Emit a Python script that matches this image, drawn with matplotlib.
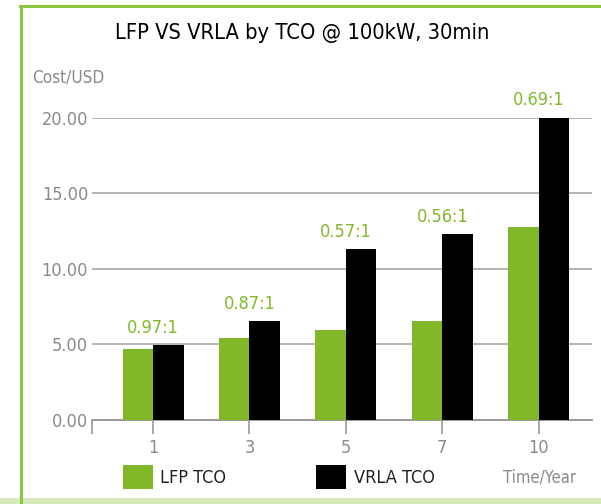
import numpy as np
import matplotlib
matplotlib.use("Agg")
from matplotlib import pyplot as plt
from matplotlib.lines import Line2D
from matplotlib.patches import Rectangle

plt.rcParams["font.family"] = ["DejaVu Sans"]
plt.rcParams["font.stretch"] = "condensed"

years = ["1", "3", "5", "7", "10"]
lfp_tco = [4.7, 5.43, 5.96, 6.56, 12.8]
vrla_tco = [4.97, 6.56, 11.31, 12.3, 20.0]
ratios = ["0.97:1", "0.87:1", "0.57:1", "0.56:1", "0.69:1"]
y_ticks = [0, 5, 10, 15, 20]

green = "#80b82a"
grey = "#999999"
text_grey = "#8a8a8a"

fig = plt.figure(figsize=(6.01, 5.04), dpi=100)
ax = fig.add_axes([92.3 / 601, (504 - 420) / 504, (591.7 - 92.3) / 601, (420 - 117.7) / 504])

x = np.arange(len(years))
w = 0.316
ax.bar(x - w / 2, lfp_tco, w, color=green, label="LFP TCO", zorder=3)
ax.bar(x + w / 2, vrla_tco, w, color="black", label="VRLA TCO", zorder=3)

for xi, r, a, b in zip(x, ratios, lfp_tco, vrla_tco):
    ax.annotate(r, (xi, max(a, b)), xytext=(0, 6), textcoords="offset points",
                ha="center", va="bottom", color=green, fontsize=13, clip_on=False)

ax.set_xlim(-0.63, 4.55)
ax.set_ylim(0, 20)
ax.set_yticks(y_ticks)
ax.set_yticklabels(["%.2f" % v for v in y_ticks])
ax.set_xticks(x)
ax.set_xticklabels(years)
ax.set_xticks([-0.63], minor=True)
ax.tick_params(axis="y", length=0, pad=3, labelsize=13, labelcolor=text_grey)
ax.tick_params(axis="x", which="both", length=10, width=1.2, color=grey, pad=4,
               labelsize=13, labelcolor=text_grey)
for v in y_ticks[1:]:
    ax.axhline(v, color="#b4b4b4", lw=1.4, zorder=1)
for s in ["top", "right", "left"]:
    ax.spines[s].set_visible(False)
ax.spines["bottom"].set_color(grey)
ax.spines["bottom"].set_linewidth(1.4)
ax.set_facecolor("none")

fig.text(0.503, 1 - 33 / 504, "LFP VS VRLA by TCO @ 100kW, 30min", ha="center", va="center",
         fontsize=15.7, color="black")
fig.text(32 / 601, 1 - 77 / 504, "Cost/USD", ha="left", va="center", fontsize=12.3, color=text_grey)
fig.text(540 / 601, 1 - 478 / 504, "Time/Year", ha="center", va="center", fontsize=12, color=text_grey)

leg = ax.legend(loc="center left", bbox_to_anchor=(123 / 601, 1 - 477 / 504),
                bbox_transform=fig.transFigure, ncol=2, frameon=False, fontsize=13,
                handlelength=1.66, handleheight=1.66, handletextpad=0.4, columnspacing=5.0,
                borderpad=0, borderaxespad=0)
for t in leg.get_texts():
    t.set_color("#222222")

# frame decoration
fig.add_artist(Line2D([21 / 601, 21 / 601], [0, 1 - 5.8 / 504], color="#8cc63f", lw=2.2))
fig.add_artist(Line2D([20 / 601, 1], [1 - 5.8 / 504, 1 - 5.8 / 504], color="#8cc63f", lw=2.2))
fig.add_artist(Rectangle((0, 0), 1, 6 / 504, transform=fig.transFigure, color="#d7eabb", lw=0))

fig.savefig("out.png", dpi=100)
